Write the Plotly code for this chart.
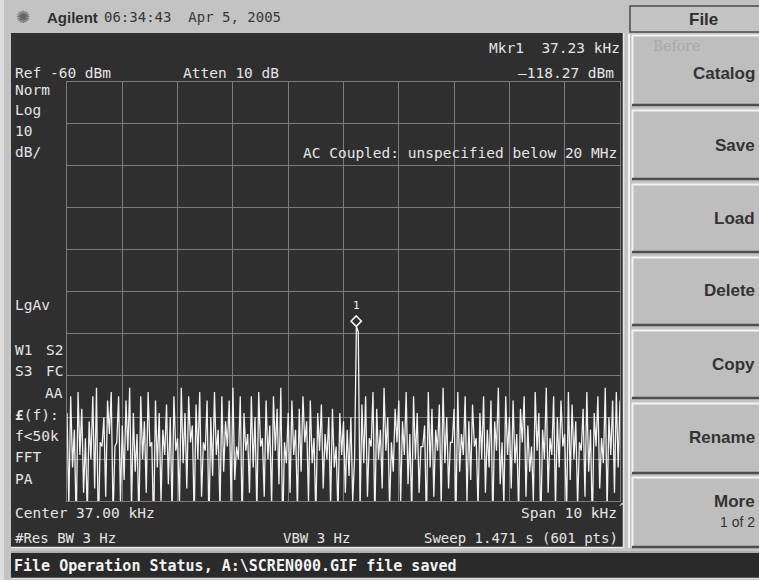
import numpy as np
import plotly.graph_objects as go

# ---------------- data ----------------
CENTER_KHZ = 37.0
SPAN_KHZ = 10.0
REF_DBM = -60.0
DB_PER_DIV = 10.0
N_DIV = 10
MKR_FREQ_KHZ = 37.23
MKR_AMP_DBM = -118.27

levels_dbm = [
    -139, -161, -135, -152, -143, -166, -134, -149, -138, -158, -145, -163, -141, -150, -135, -157, -133, -168, -146, -147,
    -140, -159, -136, -144, -134, -164, -147, -146, -135, -160, -142, -155, -136, -148, -133, -162, -139, -153, -144, -165,
    -135, -150, -141, -158, -134, -147, -146, -167, -136, -152, -139, -160, -143, -149, -137, -156, -140, -163, -135, -148,
    -145, -161, -133, -151, -139, -157, -135, -146, -142, -164, -137, -150, -134, -159, -146, -148, -136, -166, -140, -154,
    -134, -149, -143, -162, -135, -153, -141, -147, -136, -160, -133, -155, -147, -150, -135, -165, -139, -148, -144, -158,
    -135, -152, -140, -163, -134, -147, -145, -159, -136, -150, -142, -161, -135, -148, -138, -156, -133, -167, -146, -151,
    -139, -158, -136, -149, -143, -162, -138, -153, -135, -146, -141, -160, -136, -151, -145, -164, -139, -148, -137, -157,
    -144, -150, -140, -161, -138, -152, -147, -163, -139, -149, -141, -158, -143, -154, -140, -160, -150, -118.27, -119.6, -162,
    -137, -151, -135, -159, -145, -147, -134, -165, -138, -150, -143, -157, -133, -148, -140, -162, -146, -153, -138, -146,
    -136, -160, -141, -149, -134, -156, -144, -163, -135, -150, -139, -158, -147, -147, -142, -166, -134, -152, -138, -159,
    -143, -148, -137, -161, -133, -151, -140, -157, -146, -146, -138, -164, -134, -153, -144, -149, -135, -160, -141, -155,
    -137, -147, -145, -162, -139, -150, -135, -158, -143, -152, -136, -165, -141, -148, -133, -156, -146, -161, -135, -149,
    -140, -157, -136, -151, -144, -163, -138, -146, -135, -159, -142, -153, -147, -160, -134, -148, -139, -167, -143, -150,
    -133, -158, -145, -149, -135, -162, -140, -152, -136, -147, -144, -164, -134, -155, -137, -150, -141, -161, -146, -148,
    -138, -159, -134, -153, -143, -166, -139, -147, -135, -157, -145, -151, -133, -162, -140, -149, -136, -158, -134, -152,
    -136,
]

left_labels = ["Norm", "Log", "10", "dB/", "LgAv", "W1", "S3", "<b>£</b>(f):", "f<50k", "FFT", "PA"]
left_right_labels = ["S2", "FC", "AA"]
softkeys = ["Catalog", "Save", "Load", "Delete", "Copy", "Rename", "More"]

f_start = CENTER_KHZ - SPAN_KHZ / 2
f_stop = CENTER_KHZ + SPAN_KHZ / 2
bottom_dbm = REF_DBM - DB_PER_DIV * N_DIV
freqs = np.linspace(f_start, f_stop, len(levels_dbm))

# ---------------- geometry (pixels) ----------------
FW, FH = 759, 580
L, R, T, B = 67, 620, 82, 501
W, H = R - L, B - T

def xp(px):
    return (px - L) / W

def yp(py):
    return (B - py) / H

MONO = "DejaVu Sans Mono"
SANS = "Liberation Sans"
DISP = "#e4e4e4"
DARK = "#2f2f2f"
PANEL = "#c3c3c3"
BTN = "#bebebe"

shapes = []
annots = []

def rect(x0, y0, x1, y1, fill, line=None, lw=0):
    shapes.append(dict(type="rect", xref="paper", yref="paper", layer="below",
                       x0=xp(x0), x1=xp(x1), y0=yp(y1), y1=yp(y0),
                       fillcolor=fill, line=dict(color=line or fill, width=lw)))

def line(x0, y0, x1, y1, color, lw=1.0):
    shapes.append(dict(type="line", xref="paper", yref="paper", layer="below",
                       x0=xp(x0), x1=xp(x1), y0=yp(y0), y1=yp(y1),
                       line=dict(color=color, width=lw)))

def txt(s, px, py, anchor="left", size=14.5, color=DISP, family=MONO):
    annots.append(dict(text=s, x=xp(px), y=yp(py), xref="paper", yref="paper",
                       xanchor=anchor, yanchor="middle", showarrow=False,
                       borderpad=0, font=dict(family=family, size=size, color=color)))

# background pieces
rect(0, 0, 4, FH, "#dedede")
rect(11, 33, 624, 548, DARK)
line(11, 547.5, 624, 547.5, "#e8e8e8", 1.5)
line(623.5, 33, 623.5, 548, "#e8e8e8", 1.5)
rect(11, 553, FW + 2, 578, "#2a2a2a")
line(11, 552, FW, 552, "#9a9a9a", 1)
line(11, 578.5, FW, 578.5, "#e0e0e0", 1.5)

# softkey panel
line(629, 34, 629, 548, "#f2f2f2", 2)
rect(630, 6, FW + 2, 32, "#c4c4c4", "#4a4a4a", 1.5)
btn_spans = [(35, 105), (110, 179), (184, 252), (257, 325), (330, 398), (403, 473), (477, 547)]
for (t0, t1) in btn_spans:
    rect(632, t0, FW + 2, t1, BTN)
    line(632, t0 + 0.5, FW, t0 + 0.5, "#f4f4f4", 2)
    line(632.5, t0, 632.5, t1, "#f0f0f0", 2)
    line(632, t1, FW, t1, "#4e4e4e", 2.5)

# header
txt("✺", 23, 17, "center", 17, "#666666", "DejaVu Sans")
txt("<b>Agilent</b>", 46, 17, "left", 15, "#303030", SANS)
txt("06:34:43  Apr 5, 2005", 103, 17, "left", 14, "#383838", MONO)

# display texts
txt("Ref -60 dBm", 14, 73)
txt("Atten 10 dB", 182, 73)
txt("Mkr1  37.23 kHz", 621, 48, "right")
txt("\u2013118.27 dBm", 615, 73, "right")
txt("AC Coupled: unspecified below 20 MHz", 618, 153, "right")
left_y = [90, 110, 131, 152, 305, 350, 371, 415, 436, 457, 479]
for s, yy in zip(left_labels, left_y):
    txt(s, 14, yy)
for s, yy in zip(left_right_labels, [350, 371, 393]):
    txt(s, 64, yy, "right")
txt("Center 37.00 kHz", 14, 513)
txt("Span 10 kHz", 618, 513, "right")
txt("^", 622, 507, "center", 10)
txt("#Res BW 3 Hz", 14, 538, "left", 14)
txt("VBW 3 Hz", 282, 538, "left", 14)
txt("Sweep 1.471 s (601 pts)", 619, 538, "right", 14)

# status bar
txt("<b>File Operation Status, A:\\SCREN000.GIF file saved</b>", 13, 566, "left", 15, "#f2f2f2", MONO)

# softkey labels
txt("<b>File</b>", 703, 19, "center", 17, "#2e2e2e", SANS)
txt("Before", 652, 46, "left", 14, "#a9a9a9", "DejaVu Serif")
key_y = [73, 145, 218, 290, 364, 437, 501]
for s, yy in zip(softkeys, key_y):
    txt("<b>" + s + "</b>", 756, yy, "right", 17, "#333333", SANS)
txt("1 of 2", 756, 522, "right", 14, "#333333", SANS)

fig = go.Figure()
fig.add_trace(go.Scatter(x=freqs, y=levels_dbm, mode="lines",
                         line=dict(color="#f2f2f2", width=1.3),
                         hoverinfo="skip", showlegend=False))
# marker 1 (diamond sits just above the trace point)
diamond_offset_db = 5 * (DB_PER_DIV * N_DIV) / H
fig.add_trace(go.Scatter(x=[MKR_FREQ_KHZ], y=[MKR_AMP_DBM + diamond_offset_db], mode="markers",
                         marker=dict(symbol="diamond-open", size=8, color="#f4f4f4",
                                     line=dict(color="#f4f4f4", width=1.6)),
                         hoverinfo="skip", showlegend=False))
annots.append(dict(text="1", x=MKR_FREQ_KHZ, y=MKR_AMP_DBM, xref="x", yref="y",
                   yshift=21, showarrow=False, font=dict(family=MONO, size=11, color="#f0f0f0")))

GRID = "#7c7c7c"
fig.update_layout(
    width=FW, height=FH, autosize=False,
    margin=dict(l=L, r=FW - R, t=T, b=FH - B, pad=0),
    paper_bgcolor=PANEL, plot_bgcolor=DARK,
    xaxis=dict(range=[f_start, f_stop], dtick=SPAN_KHZ / N_DIV, tick0=f_start,
               showgrid=True, gridcolor=GRID, gridwidth=1, zeroline=False,
               showticklabels=False, ticks="", showline=True, mirror=True,
               linecolor=GRID, linewidth=1, fixedrange=True),
    yaxis=dict(range=[bottom_dbm, REF_DBM], dtick=DB_PER_DIV, tick0=bottom_dbm,
               showgrid=True, gridcolor=GRID, gridwidth=1, zeroline=False,
               showticklabels=False, ticks="", showline=True, mirror=True,
               linecolor=GRID, linewidth=1, fixedrange=True),
    shapes=shapes, annotations=annots, showlegend=False,
)

fig.write_html("out.html", config={"displayModeBar": False},
               post_script="document.body.style.margin='0';document.body.style.overflow='hidden';")
